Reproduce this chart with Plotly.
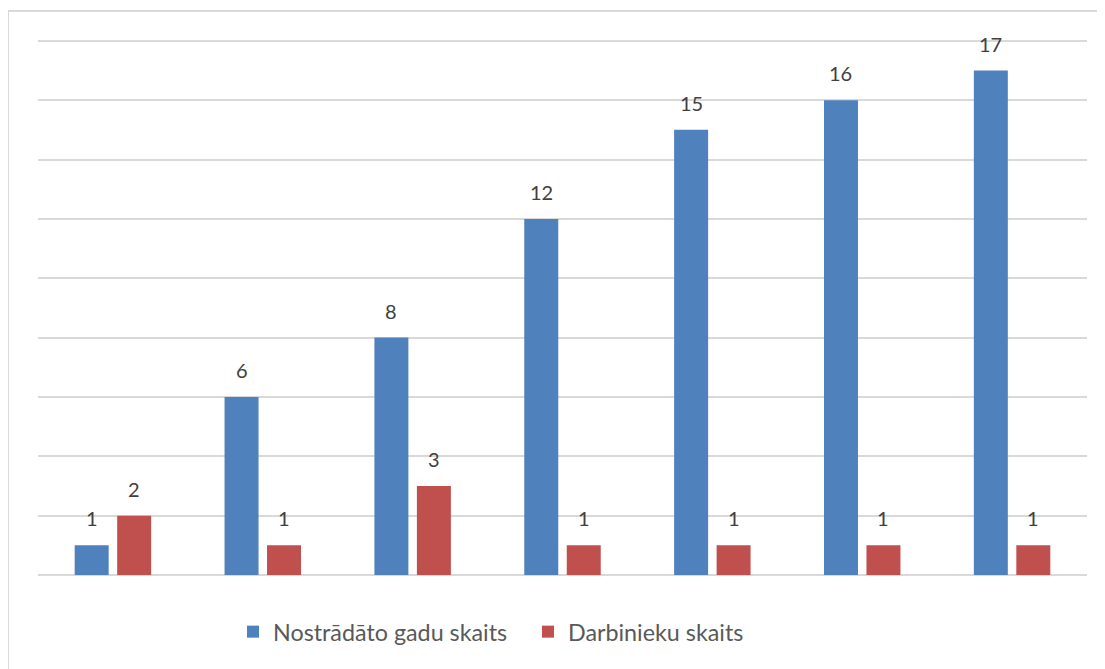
import plotly.graph_objects as go

categories = ["1", "2", "3", "4", "5", "6", "7"]
series_names = ["Nostrādāto gadu skaits", "Darbinieku skaits"]
years_worked = [1, 6, 8, 12, 15, 16, 17]
employees = [2, 1, 3, 1, 1, 1, 1]
colors = ["#4F81BD", "#C0504D"]

# page body has an 8px margin, so the figure is drawn 8px in from top/left
W, H = 1097, 661
ml, mr, mt, mb = 30, 18, 18, 94
bargap = 0.433
bargroupgap = 0.2
pw = W - ml - mr
ph = H - mt - mb

fig = go.Figure()
legend_ids = ["legend", "legend2"]
for name, vals, col, lg in zip(series_names, [years_worked, employees], colors, legend_ids):
    fig.add_trace(go.Bar(
        x=list(range(len(categories))), y=vals, name=name, legend=lg,
        marker=dict(color=col, line=dict(width=0)),
    ))

offset = (1 - bargap) / 4
for k, vals in enumerate([years_worked, employees]):
    sgn = -1 if k == 0 else 1
    for i, v in enumerate(vals):
        fig.add_annotation(x=i + sgn * offset, y=v, text=str(v), showarrow=False,
                           yanchor="bottom", yshift=13,
                           font=dict(family="Lato", size=20, color="#404040"))

fig.add_shape(type="rect", xref="paper", yref="paper",
              x0=-ml / pw, x1=1.2, y0=-0.5, y1=(H - mb - 3) / ph,
              line=dict(color="#D9D9D9", width=2), fillcolor="rgba(0,0,0,0)", layer="below")

legend_text_x = [273, 568]  # page pixels where legend text starts
leg_y = (H - mb - 624) / ph
legend_font = dict(family="Lato", size=23.3, color="#595959")

fig.update_layout(
    width=W, height=H,
    margin=dict(l=ml, r=mr, t=mt, b=mb, autoexpand=False),
    paper_bgcolor="white", plot_bgcolor="white",
    barmode="group", bargap=bargap, bargroupgap=bargroupgap,
    xaxis=dict(range=[-0.5, len(categories) - 0.5], showticklabels=False, showgrid=False,
               zeroline=False, showline=False, ticks=""),
    yaxis=dict(range=[0, 18.5], tickvals=[0, 2, 4, 6, 8, 10, 12, 14, 16, 18],
               showticklabels=False, showgrid=True,
               gridcolor="#D9D9D9", gridwidth=1.5, zeroline=True, zerolinecolor="#D9D9D9",
               zerolinewidth=1.5, showline=False, ticks=""),
    showlegend=True,
    legend=dict(orientation="h", x=(legend_text_x[0] - 8 - 40 - ml) / pw, xanchor="left",
                y=leg_y, yanchor="middle", font=legend_font, itemwidth=30, bgcolor="rgba(0,0,0,0)"),
    legend2=dict(orientation="h", x=(legend_text_x[1] - 8 - 40 - ml) / pw, xanchor="left",
                 y=leg_y, yanchor="middle", font=legend_font, itemwidth=30, bgcolor="rgba(0,0,0,0)"),
    font=dict(family="Lato"),
)
fig.write_html("out.html")
